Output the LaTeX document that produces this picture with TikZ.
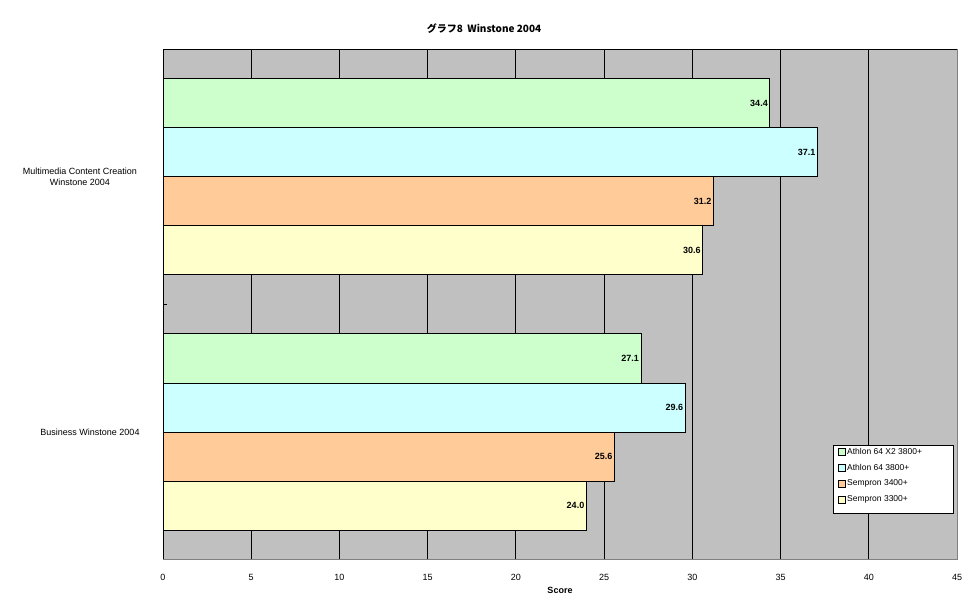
\documentclass[tikz,border=0pt]{standalone}
\usepackage{fontspec}
\setmainfont{Liberation Sans}
\newfontfamily\cjk{Noto Sans CJK JP}
\begin{document}
\begin{tikzpicture}[x=1pt,y=-1pt,
  bar/.style={draw=black,line width=1pt},
  val/.style={font=\fontsize{9}{10}\selectfont\bfseries,anchor=east,inner sep=2pt},
  lbl/.style={font=\fontsize{9}{11}\selectfont,align=center},
  tick/.style={font=\fontsize{9}{10}\selectfont}]
\useasboundingbox (0,0) rectangle (970,604);
\definecolor{cg}{RGB}{204,255,204}
\definecolor{cc}{RGB}{204,255,255}
\definecolor{co}{RGB}{255,204,153}
\definecolor{cy}{RGB}{255,255,204}
\definecolor{pg}{RGB}{192,192,192}
\fill[pg] (163,49) rectangle (957,559);
\foreach \i in {1,...,8} \draw[line width=0.8pt] ({163+\i*88.222},49) -- ({163+\i*88.222},559);
\draw[line width=0.8pt,draw=gray] (163,49) rectangle (957,559);
\draw[line width=0.8pt] (163,559) -- (163,49) -- (957,49);
\draw (163,304) -- (167,304);
\foreach \v/\y/\c [count=\k] in {34.4/79/cg,37.1/128/cc,31.2/177/co,30.6/226/cy,27.1/334/cg,29.6/383/cc,25.6/432/co,24.0/481/cy}{
  \draw[bar,fill=\c] (163,\y) rectangle ({163+\v*17.644},{\y+49});
  \node[val] (v\k) at ({163+\v*17.644},{\y+24.5}) {\v};
}
\foreach \i/\t in {0/0,1/5,2/10,3/15,4/20,5/25,6/30,7/35,8/40,9/45} \node[tick] (t\i) at ({163+\i*88.222},577) {\t};
\node[font=\fontsize{9}{10}\selectfont\bfseries] (score) at (560,590) {Score};
\node[lbl] (c1) at (80,177) {Multimedia Content Creation\\Winstone 2004};
\node[lbl] (c2) at (90,432) {Business Winstone 2004};
\node[font=\cjk\fontsize{10}{12}\selectfont\bfseries] (title) at (484,29) {グラフ8\ \ Winstone 2004};
\draw[fill=white] (833,445) rectangle (953,513);
\foreach \c/\t [count=\k] in {cg/Athlon 64 X2 3800+,cc/Athlon 64 3800+,co/Sempron 3400+,cy/Sempron 3300+}{
  \draw[fill=\c,line width=0.6pt] (838,{445+\k*16-13}) rectangle ++(7,7);
  \node[font=\fontsize{8.5}{10}\selectfont,anchor=west,inner sep=1pt] (l\k) at (846,{445+\k*16-9.5}) {\t};
}
\end{tikzpicture}
\end{document}
